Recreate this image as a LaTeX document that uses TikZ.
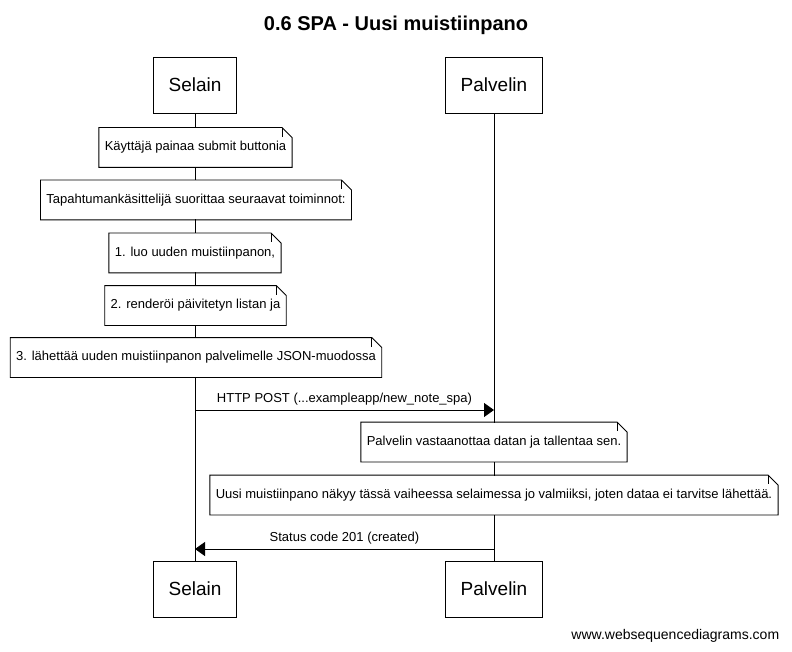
\documentclass[tikz,border=0pt]{standalone}
\usepackage{fontspec}
\setmainfont{Liberation Sans}
\usetikzlibrary{arrows.meta,positioning}

% note with folded corner: name, position, text
\newcommand{\notebox}[3]{%
	\node[note] (#1) at (#2) {#3};
	\draw (#1.north west) -- ([xshift=-10pt]#1.north east) -- ([yshift=-10pt]#1.north east) -- (#1.south east) -- (#1.south west) -- cycle;
	\draw ([xshift=-10pt]#1.north east) -- ([xshift=-10pt,yshift=-9pt]#1.north east);
}

\begin{document}
\begin{tikzpicture}[
			x=1pt, y=-1pt,
			line width=0.9pt,
			actor/.style={draw, rectangle, fill=white, minimum height=56pt, inner xsep=15.5pt, font=\fontsize{19}{22}\selectfont},
			note/.style={rectangle, fill=white, minimum height=39pt, inner xsep=5.5pt, font=\fontsize{13}{15}\selectfont},
			msg/.style={-{Triangle[length=10pt,width=14pt]}},
			msglabel/.style={above=1pt, font=\fontsize{13}{15}\selectfont}
			]
			\useasboundingbox (0,0) rectangle (792,652);
			
			% Title
			\node[font=\bfseries\fontsize{20}{24}\selectfont] (title) at (396,25) {0.6 SPA - Uusi muistiinpano};
			
			% Actors
			\node[actor] (S1) at (195,85) {Selain};
			\node[actor] (P1) at (494,85) {Palvelin};
			\node[actor] (S2) at (195,589) {Selain};
			\node[actor] (P2) at (494,589) {Palvelin};
			
			% Lifelines
			\draw (S1) -- (S2);
			\draw (P1) -- (P2);
			
			% Notes on the browser side
			\notebox{n1}{195.5,147.5}{Käyttäjä painaa submit buttonia}
			\notebox{n2}{196,200}{Tapahtumankäsittelijä suorittaa seuraavat toiminnot:}
			\notebox{n3}{195,253}{1. luo uuden muistiinpanon,}
			\notebox{n4}{195.5,305.5}{2. renderöi päivitetyn listan ja}
			\notebox{n5}{196,357.5}{3. lähettää uuden muistiinpanon palvelimelle JSON-muodossa}
			
			% Request
			\coordinate (m1) at (0,410);
			\draw[msg] (S1 |- m1) -- node[msglabel] {HTTP POST (...exampleapp/new\_note\_spa)} (P1 |- m1);
			
			% Notes on the server side
			\notebox{n6}{494,442}{Palvelin vastaanottaa datan ja tallentaa sen.}
			\notebox{n7}{494,495}{Uusi muistiinpano näkyy tässä vaiheessa selaimessa jo valmiiksi, joten dataa ei tarvitse lähettää.}
			
			% Response
			\coordinate (m2) at (0,549);
			\draw[msg] (P1 |- m2) -- node[msglabel] {Status code 201 (created)} (S1 |- m2);
			
			% Watermark
			\node[anchor=east, font=\fontsize{14}{16}\selectfont] (wm) at (783,636) {www.websequencediagrams.com};
			
		\end{tikzpicture}
\end{document}
